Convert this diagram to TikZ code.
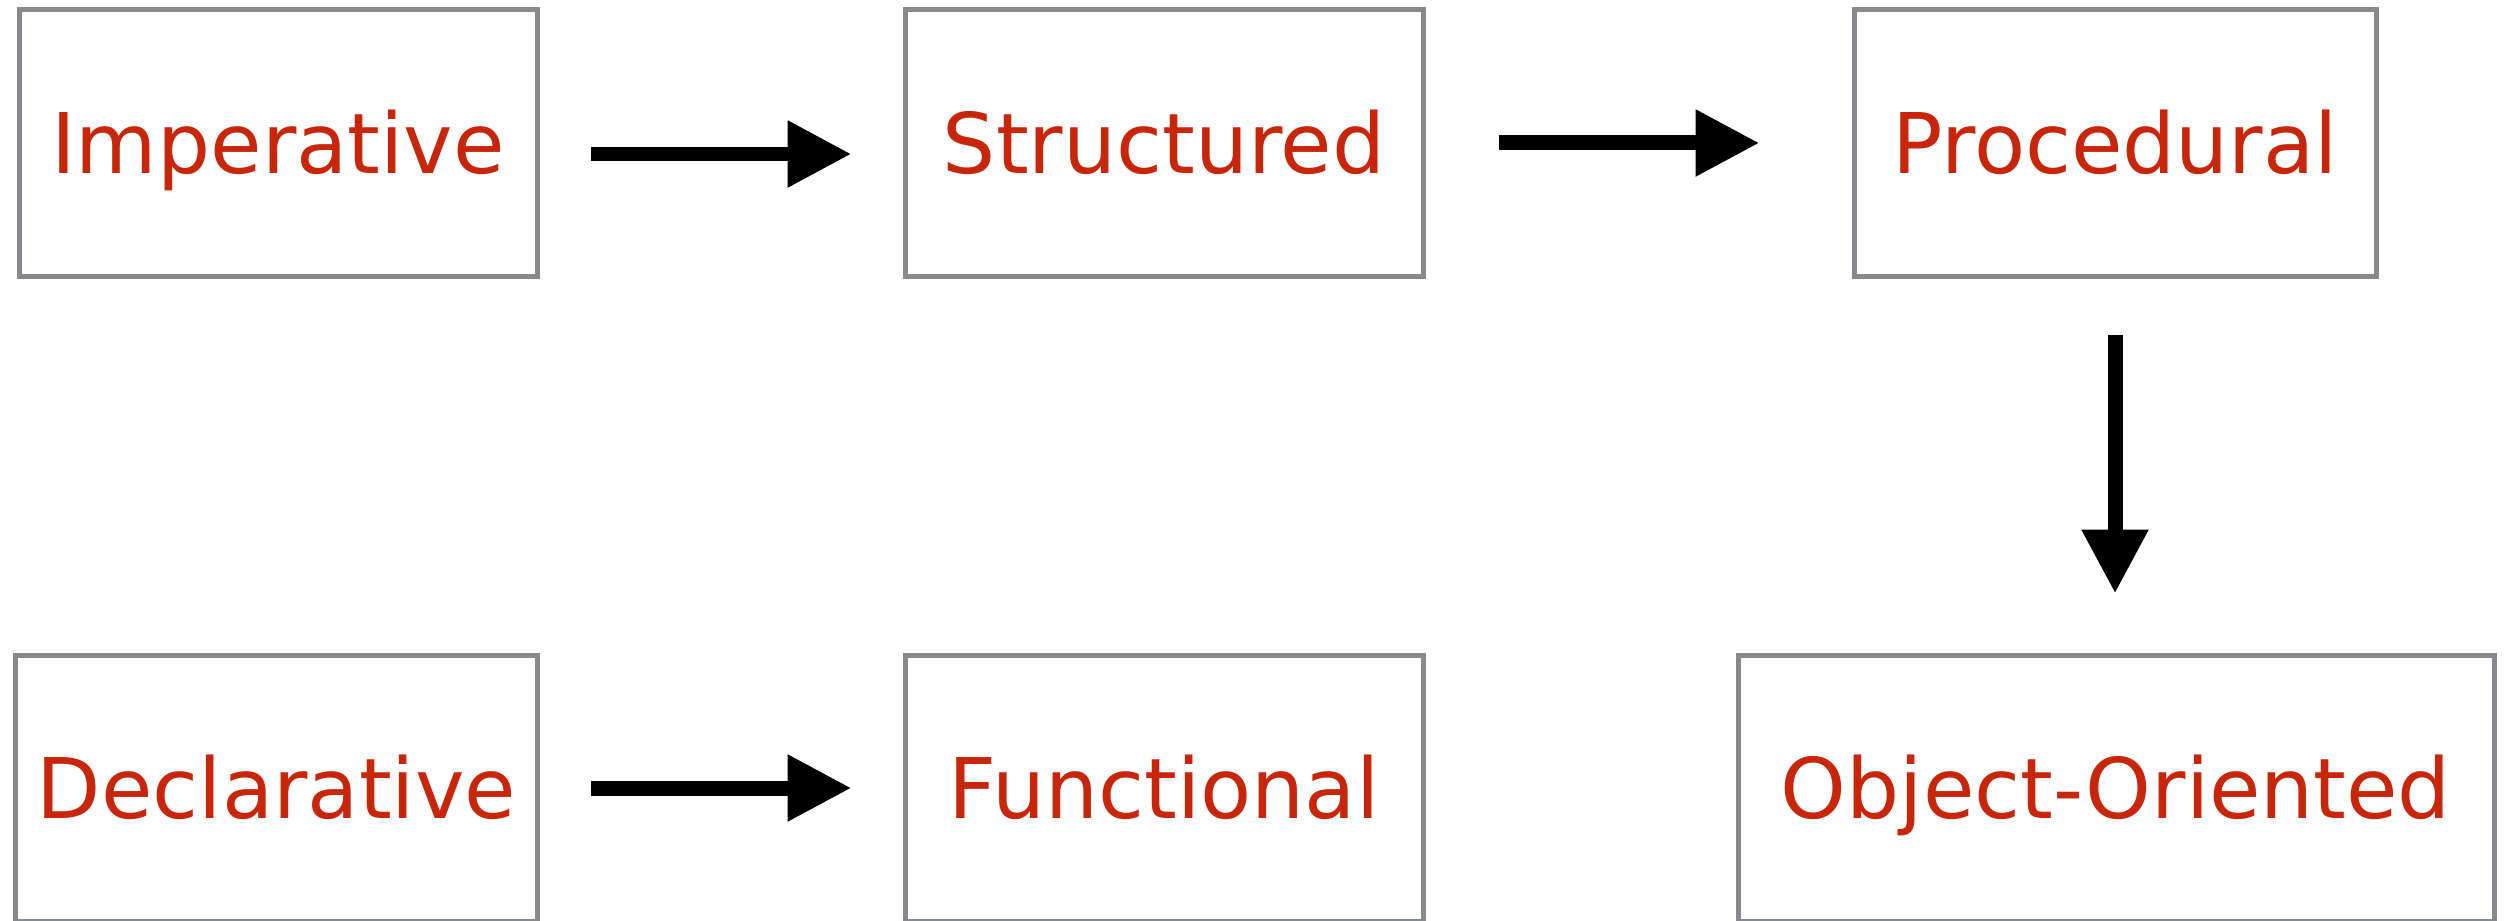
\documentclass[tikz,border=0pt]{standalone}
\usepackage{fontspec}
\usepackage{tikz}
\usetikzlibrary{positioning,arrows.meta}
\newfontfamily\boxfont{DejaVu Sans}
\definecolor{parred}{RGB}{200,38,10}
\definecolor{pargray}{RGB}{135,137,141}
\tikzset{
  par_box/.style = {rectangle, draw=pargray, line width=0.05cm, fill=white,
    minimum width=5.18cm, minimum height=2.66cm, inner sep=0pt,
    text=parred, font=\boxfont\fontsize{23.8pt}{28pt}\selectfont,
    text height=17.4pt, text depth=0pt},% boite de paradigme
  par_arr/.style = {line width=0.15cm,
    -{Triangle[length=0.64cm, width=0.63cm]}}% fleche pleine
}

\begin{document}
\begin{tikzpicture}
\useasboundingbox (0,0) rectangle (25.12,9.2);
\node [par_box] (imp) at (2.78,7.77) {Imperative};
\node [par_box] (str) at (11.64,7.77) {Structured};
\node [par_box, minimum width=5.22cm] (proc) at (21.15,7.77) {Procedural};
\node [par_box, minimum width=5.21cm] (decl) at (2.765,1.32) {Declarative};
\node [par_box] (func) at (11.64,1.32) {Functional};
\node [par_box, minimum width=7.56cm] (oo) at (21.16,1.32) {Object-Oriented};
\draw [par_arr, shorten <=0.51cm, shorten >=0.51cm]
  ([yshift=-0.11cm]imp.east) -- ([yshift=-0.11cm]str.west);
\draw [par_arr, shorten <=0.73cm, shorten >=0.92cm] (str) -- (proc);
\draw [par_arr, shorten <=0.56cm, shorten >=0.59cm]
  (proc.south) -- (proc.south |- oo.north);
\draw [par_arr, shorten <=0.51cm, shorten >=0.51cm] (decl) -- (func);
\end{tikzpicture}
\end{document}
